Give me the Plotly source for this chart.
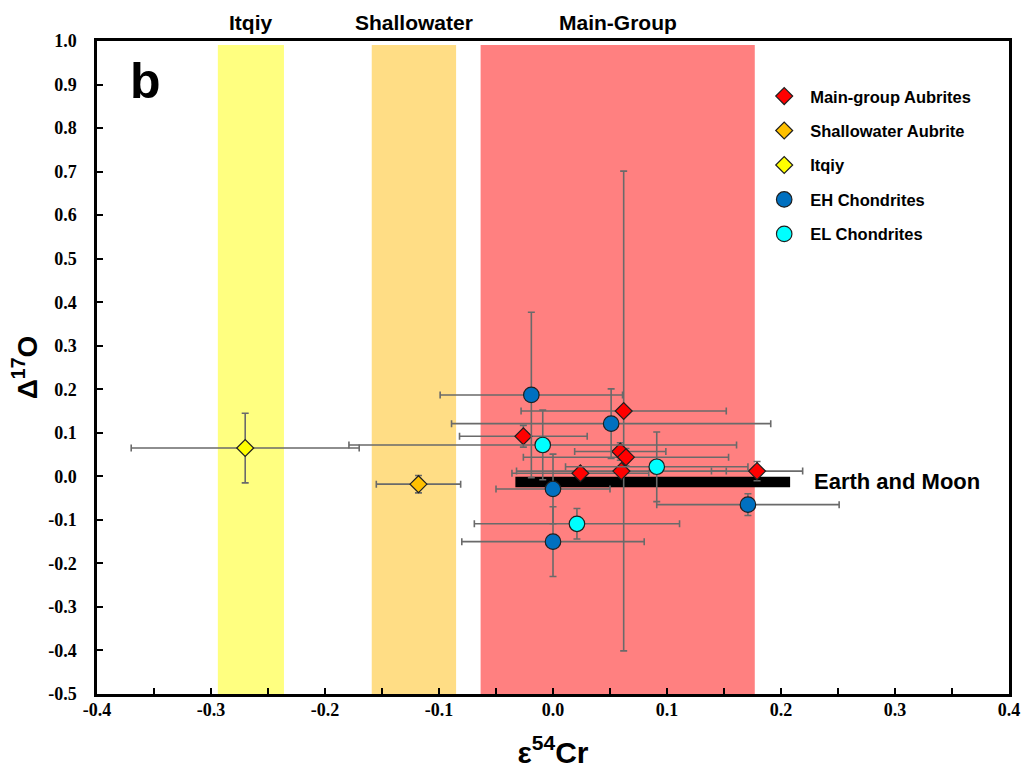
import plotly.graph_objects as go

# ---------------- data ----------------
band_names = ["Itqiy", "Shallowater", "Main-Group"]
band_x0 = [-0.294, -0.159, -0.0635]
band_x1 = [-0.236, -0.085, 0.177]
band_colors = ["#FFFF80", "#FFDD85", "#FF8080"]

mg_x = [0.062, -0.026, 0.059, 0.064, 0.060, 0.024, 0.179]
mg_y = [0.150, 0.092, 0.057, 0.044, 0.012, 0.007, 0.012]
mg_xerr = [0.090, 0.056, 0.040, 0.090, 0.092, 0.060, 0.040]
mg_yerr = [0.551, 0.025, 0.020, 0.020, 0.012, 0.010, 0.022]

sw_x = [-0.118]
sw_y = [-0.018]
sw_xerr = [0.037]
sw_yerr = [0.020]

it_x = [-0.270]
it_y = [0.065]
it_xerr = [0.100]
it_yerr = [0.080]

eh_x = [-0.019, 0.051, 0.000, 0.000, 0.171]
eh_y = [0.187, 0.121, -0.029, -0.150, -0.065]
eh_xerr = [0.080, 0.140, 0.050, 0.080, 0.080]
eh_yerr = [0.190, 0.080, 0.080, 0.080, 0.025]

el_x = [-0.009, 0.091, 0.021]
el_y = [0.072, 0.022, -0.109]
el_xerr = [0.170, 0.080, 0.090]
el_yerr = [0.080, 0.080, 0.035]

em_x = [-0.033, 0.208]
em_y = [-0.013, -0.013]
em_label = "Earth and Moon"

x_tickvals = [-0.4, -0.3, -0.2, -0.1, 0.0, 0.1, 0.2, 0.3, 0.4]
x_ticktext = ["-0.4", "-0.3", "-0.2", "-0.1", "0.0", "0.1", "0.2", "0.3", "0.4"]
y_tickvals = [-0.5, -0.4, -0.3, -0.2, -0.1, 0.0, 0.1, 0.2, 0.3, 0.4, 0.5, 0.6, 0.7, 0.8, 0.9, 1.0]
y_ticktext = ["-0.5", "-0.4", "-0.3", "-0.2", "-0.1", "0.0", "0.1", "0.2", "0.3", "0.4",
              "0.5", "0.6", "0.7", "0.8", "0.9", "1.0"]

# ---------------- figure ----------------
ERR_COLOR = "#6a6a6a"
EDGE = "#1f1f1f"
SANS = "Liberation Sans, Arial, sans-serif"
SERIF = "Liberation Serif, Times New Roman, serif"

fig = go.Figure()

# Earth and Moon bar
fig.add_trace(go.Scatter(
    x=em_x, y=em_y, mode="lines", line=dict(color="black", width=10.6),
    showlegend=False, hoverinfo="skip"))


def err(vals):
    return dict(type="data", array=vals, visible=True, color=ERR_COLOR,
                thickness=1.6, width=3.5)


series = [
    ("Main-group Aubrites", mg_x, mg_y, mg_xerr, mg_yerr, "#FF0000", "diamond", 13),
    ("Shallowater Aubrite", sw_x, sw_y, sw_xerr, sw_yerr, "#FFC000", "diamond", 13),
    ("Itqiy", it_x, it_y, it_xerr, it_yerr, "#FFFF00", "diamond", 13),
    ("EH Chondrites", eh_x, eh_y, eh_xerr, eh_yerr, "#0070C0", "circle", 15.5),
    ("EL Chondrites", el_x, el_y, el_xerr, el_yerr, "#00FFFF", "circle", 15.5),
]
for i, (name, xs, ys, xe, ye, col, sym, sz) in enumerate(series):
    fig.add_trace(go.Scatter(
        x=xs, y=ys, mode="markers", name=name, legendgroup=f"g{i}",
        marker=dict(symbol=sym, size=sz, color=col, line=dict(color=EDGE, width=1.2)),
        error_x=err(xe), error_y=err(ye)))

shapes = []
annotations = []
for name, x0, x1, c in zip(band_names, band_x0, band_x1, band_colors):
    shapes.append(dict(type="rect", xref="x", yref="paper", x0=x0, x1=x1, y0=0, y1=0.994,
                       fillcolor=c, line=dict(width=0), layer="below"))
    annotations.append(dict(x=(x0 + x1) / 2, xref="x", y=1, yref="paper",
                            yanchor="bottom", yshift=5, showarrow=False, text=name,
                            font=dict(family=SANS, size=21, color="black", weight="bold")))

annotations.append(dict(x=em_x[1], xref="x", y=em_y[0], yref="y", xanchor="left",
                        xshift=22, showarrow=False, text=em_label,
                        font=dict(family=SANS, size=22, color="black", weight="bold")))
annotations.append(dict(x=0.034, xref="paper", y=0.984, yref="paper", showarrow=False,
                        text="b", font=dict(family=SANS, size=50, color="black", weight="bold")))

fig.update_layout(
    width=1032, height=778,
    margin=dict(l=97, r=15, t=41, b=84),
    paper_bgcolor="white", plot_bgcolor="white",
    shapes=shapes, annotations=annotations,
    showlegend=True,
    legend=dict(x=0.725, y=0.942, xanchor="left", yanchor="top",
                bgcolor="rgba(0,0,0,0)", tracegroupgap=10, itemwidth=42,
                font=dict(family=SANS, size=16.5, color="black", weight="bold")),
    xaxis=dict(range=[-0.4, 0.4], tickvals=x_tickvals, ticktext=x_ticktext,
               ticks="inside", ticklen=6, tickwidth=2, tickcolor="black",
               minor=dict(dtick=0.05, tick0=0, ticks="inside", ticklen=6, tickwidth=2,
                          tickcolor="black"),
               showline=True, linewidth=2.5, linecolor="black", mirror=True,
               showgrid=False, zeroline=False, ticklabelstandoff=-2,
               tickfont=dict(family=SERIF, size=18, color="black", weight="bold"),
               title=dict(text="ε<sup>54</sup>Cr", standoff=23,
                          font=dict(family=SANS, size=30, color="black", weight="bold"))),
    yaxis=dict(range=[-0.5, 1.0], tickvals=y_tickvals, ticktext=y_ticktext,
               ticks="inside", ticklen=6, tickwidth=2, tickcolor="black",
               showline=True, linewidth=2.5, linecolor="black", mirror=True,
               showgrid=False, zeroline=False, ticklabelstandoff=14,
               tickfont=dict(family=SERIF, size=18, color="black", weight="bold"),
               title=dict(text="Δ<sup>17</sup>O", standoff=3,
                          font=dict(family=SANS, size=28, color="black", weight="bold"))),
)

fig.write_html("out.html")
